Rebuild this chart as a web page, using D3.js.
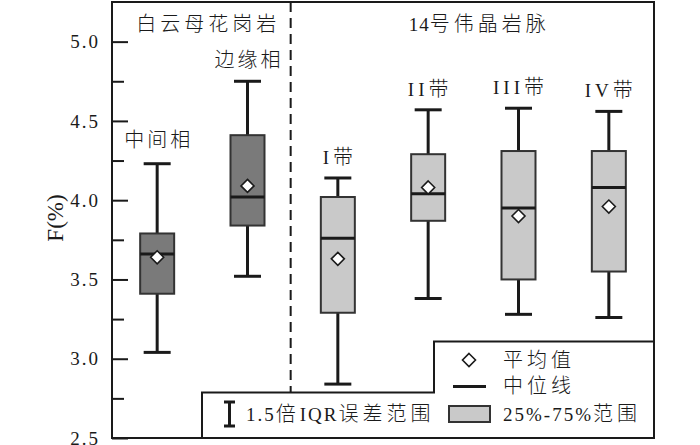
<!DOCTYPE html>
<meta charset="utf-8">
<style>
body { margin: 0; background: #fff; }
text { font-family: "Liberation Serif", "Noto Sans CJK SC", serif; fill: #1a1a1a; }
.tick text { font-size: 19px; letter-spacing: 2px; }
.tick line { stroke: #1a1a1a; stroke-width: 2; }
.domain { display: none; }
.lab { font-size: 20px; font-weight: 300; }
</style>
<body>
<script src="https://cdnjs.cloudflare.com/ajax/libs/d3/7.8.5/d3.min.js"></script>
<script>
var categories = ["中间相", "边缘相", "I带", "II带", "III带", "IV带"];
var groups = ["白云母花岗岩", "14号伟晶岩脉"];
var groupOf = [0, 0, 1, 1, 1, 1];
var whiskerLow  = [3.04, 3.52, 2.84, 3.38, 3.28, 3.26];
var q1          = [3.41, 3.84, 3.29, 3.87, 3.50, 3.55];
var median      = [3.66, 4.02, 3.76, 4.04, 3.95, 4.08];
var q3          = [3.79, 4.41, 4.02, 4.29, 4.31, 4.31];
var whiskerHigh = [4.23, 4.75, 4.14, 4.57, 4.58, 4.56];
var mean        = [3.64, 4.09, 3.63, 4.08, 3.90, 3.96];
var majorTicks = [2.5, 3.0, 3.5, 4.0, 4.5, 5.0];
var minorTicks = [2.75, 3.25, 3.75, 4.25, 4.75];

var pLeft = 112, pRight = 654, pTop = 2, pBottom = 438;
var fills = ["#7a7a7a", "#c9c9c9"];

var svg = d3.select("body").append("svg")
	.attr("width", 700)
	.attr("height", 445);

var x = d3.scaleBand().domain(categories).range([pLeft, pRight]);
var y = d3.scaleLinear().domain([2.5, 5.25]).range([pBottom, pTop]);

// mixed chinese / latin text, latin runs a bit smaller
function mixText(t, str, latinLs, cjkLs) {
	str.match(/[\u4e00-\u9fff]+|[^\u4e00-\u9fff]+/g).forEach(function(r) {
		var cjk = /[\u4e00-\u9fff]/.test(r);
		t.append("tspan")
			.style("font-size", cjk ? "20px" : "19px")
			.style("letter-spacing", (cjk ? cjkLs : latinLs) + "px")
			.text(r);
	});
	return t;
}

// ticks point inward
svg.append("g")
	.attr("transform", "translate(" + pLeft + ",0)")
	.call(d3.axisLeft(y).tickValues(majorTicks).tickSize(-16).tickPadding(12)
		.tickFormat(d3.format(".1f")));
svg.append("g")
	.attr("transform", "translate(" + pLeft + ",0)")
	.call(d3.axisLeft(y).tickValues(minorTicks).tickSize(-12).tickFormat(""));

svg.append("text")
	.attr("transform", "translate(55," + ((pTop + pBottom) / 2 - 2) + ") rotate(-90)")
	.attr("text-anchor", "middle")
	.attr("dy", "0.35em")
	.style("font-size", "23px")
	.text("F(%)");

// divider between the two groups
var divX = x(categories[2]) - 2;
var legTop = 392.5, legTop2 = 341.5, legLeft = 202, legLeft2 = 434;
svg.append("line")
	.attr("x1", divX).attr("x2", divX)
	.attr("y1", pTop).attr("y2", legTop)
	.style("stroke", "#1a1a1a")
	.style("stroke-width", 2)
	.style("stroke-dasharray", "10,6");

// group titles
groups.forEach(function(g, gi) {
	var x0 = gi == 0 ? pLeft : divX;
	var x1 = gi == 0 ? divX : pRight;
	mixText(svg.append("text")
		.attr("class", "lab")
		.attr("x", (x0 + x1) / 2 + 7)
		.attr("y", 24)
		.attr("dy", "0.35em")
		.attr("text-anchor", "middle"), g, 1, 4);
});

var bw = 34, cap = 27;
categories.forEach(function(c, i) {
	var cx = x(c) + x.bandwidth() / 2;
	var g = svg.append("g");
	g.append("line")
		.attr("x1", cx).attr("x2", cx)
		.attr("y1", y(whiskerLow[i])).attr("y2", y(whiskerHigh[i]))
		.style("stroke", "#1a1a1a").style("stroke-width", 3);
	[whiskerLow[i], whiskerHigh[i]].forEach(function(v) {
		g.append("line")
			.attr("x1", cx - cap / 2).attr("x2", cx + cap / 2)
			.attr("y1", y(v)).attr("y2", y(v))
			.style("stroke", "#1a1a1a").style("stroke-width", 3);
	});
	g.append("rect")
		.attr("x", cx - bw / 2).attr("width", bw)
		.attr("y", y(q3[i])).attr("height", y(q1[i]) - y(q3[i]))
		.style("fill", fills[groupOf[i]])
		.style("stroke", "#333").style("stroke-width", 2);
	g.append("line")
		.attr("x1", cx - bw / 2).attr("x2", cx + bw / 2)
		.attr("y1", y(median[i])).attr("y2", y(median[i]))
		.style("stroke", "#1a1a1a").style("stroke-width", 3);
	g.append("path")
		.attr("transform", "translate(" + cx + "," + y(mean[i]) + ")")
		.attr("d", "M0,-6.5L6.5,0L0,6.5L-6.5,0Z")
		.style("fill", "#fff").style("stroke", "#1a1a1a").style("stroke-width", 1.6);
	mixText(g.append("text")
		.attr("class", "lab")
		.attr("x", cx + 1.5)
		.attr("y", y(whiskerHigh[i]) - (i == 0 ? 24 : 21))
		.attr("dy", "0.35em")
		.attr("text-anchor", "middle"), c, 4, 3);
});

// legend panel (stepped outline)
svg.append("path")
	.attr("d", "M" + legLeft + "," + pBottom + "V" + legTop + "H" + legLeft2 + "V" + legTop2 + "H" + pRight + "V" + pBottom + "Z")
	.style("fill", "#fff").style("stroke", "#1a1a1a").style("stroke-width", 2);

var leg = svg.append("g");
leg.append("path")
	.attr("transform", "translate(469,360)")
	.attr("d", "M0,-6.5L6.5,0L0,6.5L-6.5,0Z")
	.style("fill", "#fff").style("stroke", "#1a1a1a").style("stroke-width", 1.6);
leg.append("line")
	.attr("x1", 453).attr("x2", 486).attr("y1", 386.5).attr("y2", 386.5)
	.style("stroke", "#1a1a1a").style("stroke-width", 3);
leg.append("rect")
	.attr("x", 449).attr("y", 406).attr("width", 41).attr("height", 16)
	.style("fill", fills[1]).style("stroke", "#333").style("stroke-width", 2);
leg.append("path")
	.attr("d", "M229.5,402V426M224,402H235M224,426H235")
	.style("stroke", "#1a1a1a").style("stroke-width", 3).style("fill", "none");

var legendLabels = [["平均值", 503, 360], ["中位线", 503, 386], ["25%-75%范围", 503, 414], ["1.5倍IQR误差范围", 246, 414]];
legendLabels.forEach(function(d) {
	mixText(leg.append("text")
		.attr("class", "lab")
		.attr("x", d[1]).attr("y", d[2])
		.attr("dy", "0.35em"), d[0], 2, 4);
});

// plot frame
svg.append("rect")
	.attr("x", pLeft).attr("y", pTop)
	.attr("width", pRight - pLeft).attr("height", pBottom - pTop)
	.style("fill", "none").style("stroke", "#1a1a1a").style("stroke-width", 2);
</script>
